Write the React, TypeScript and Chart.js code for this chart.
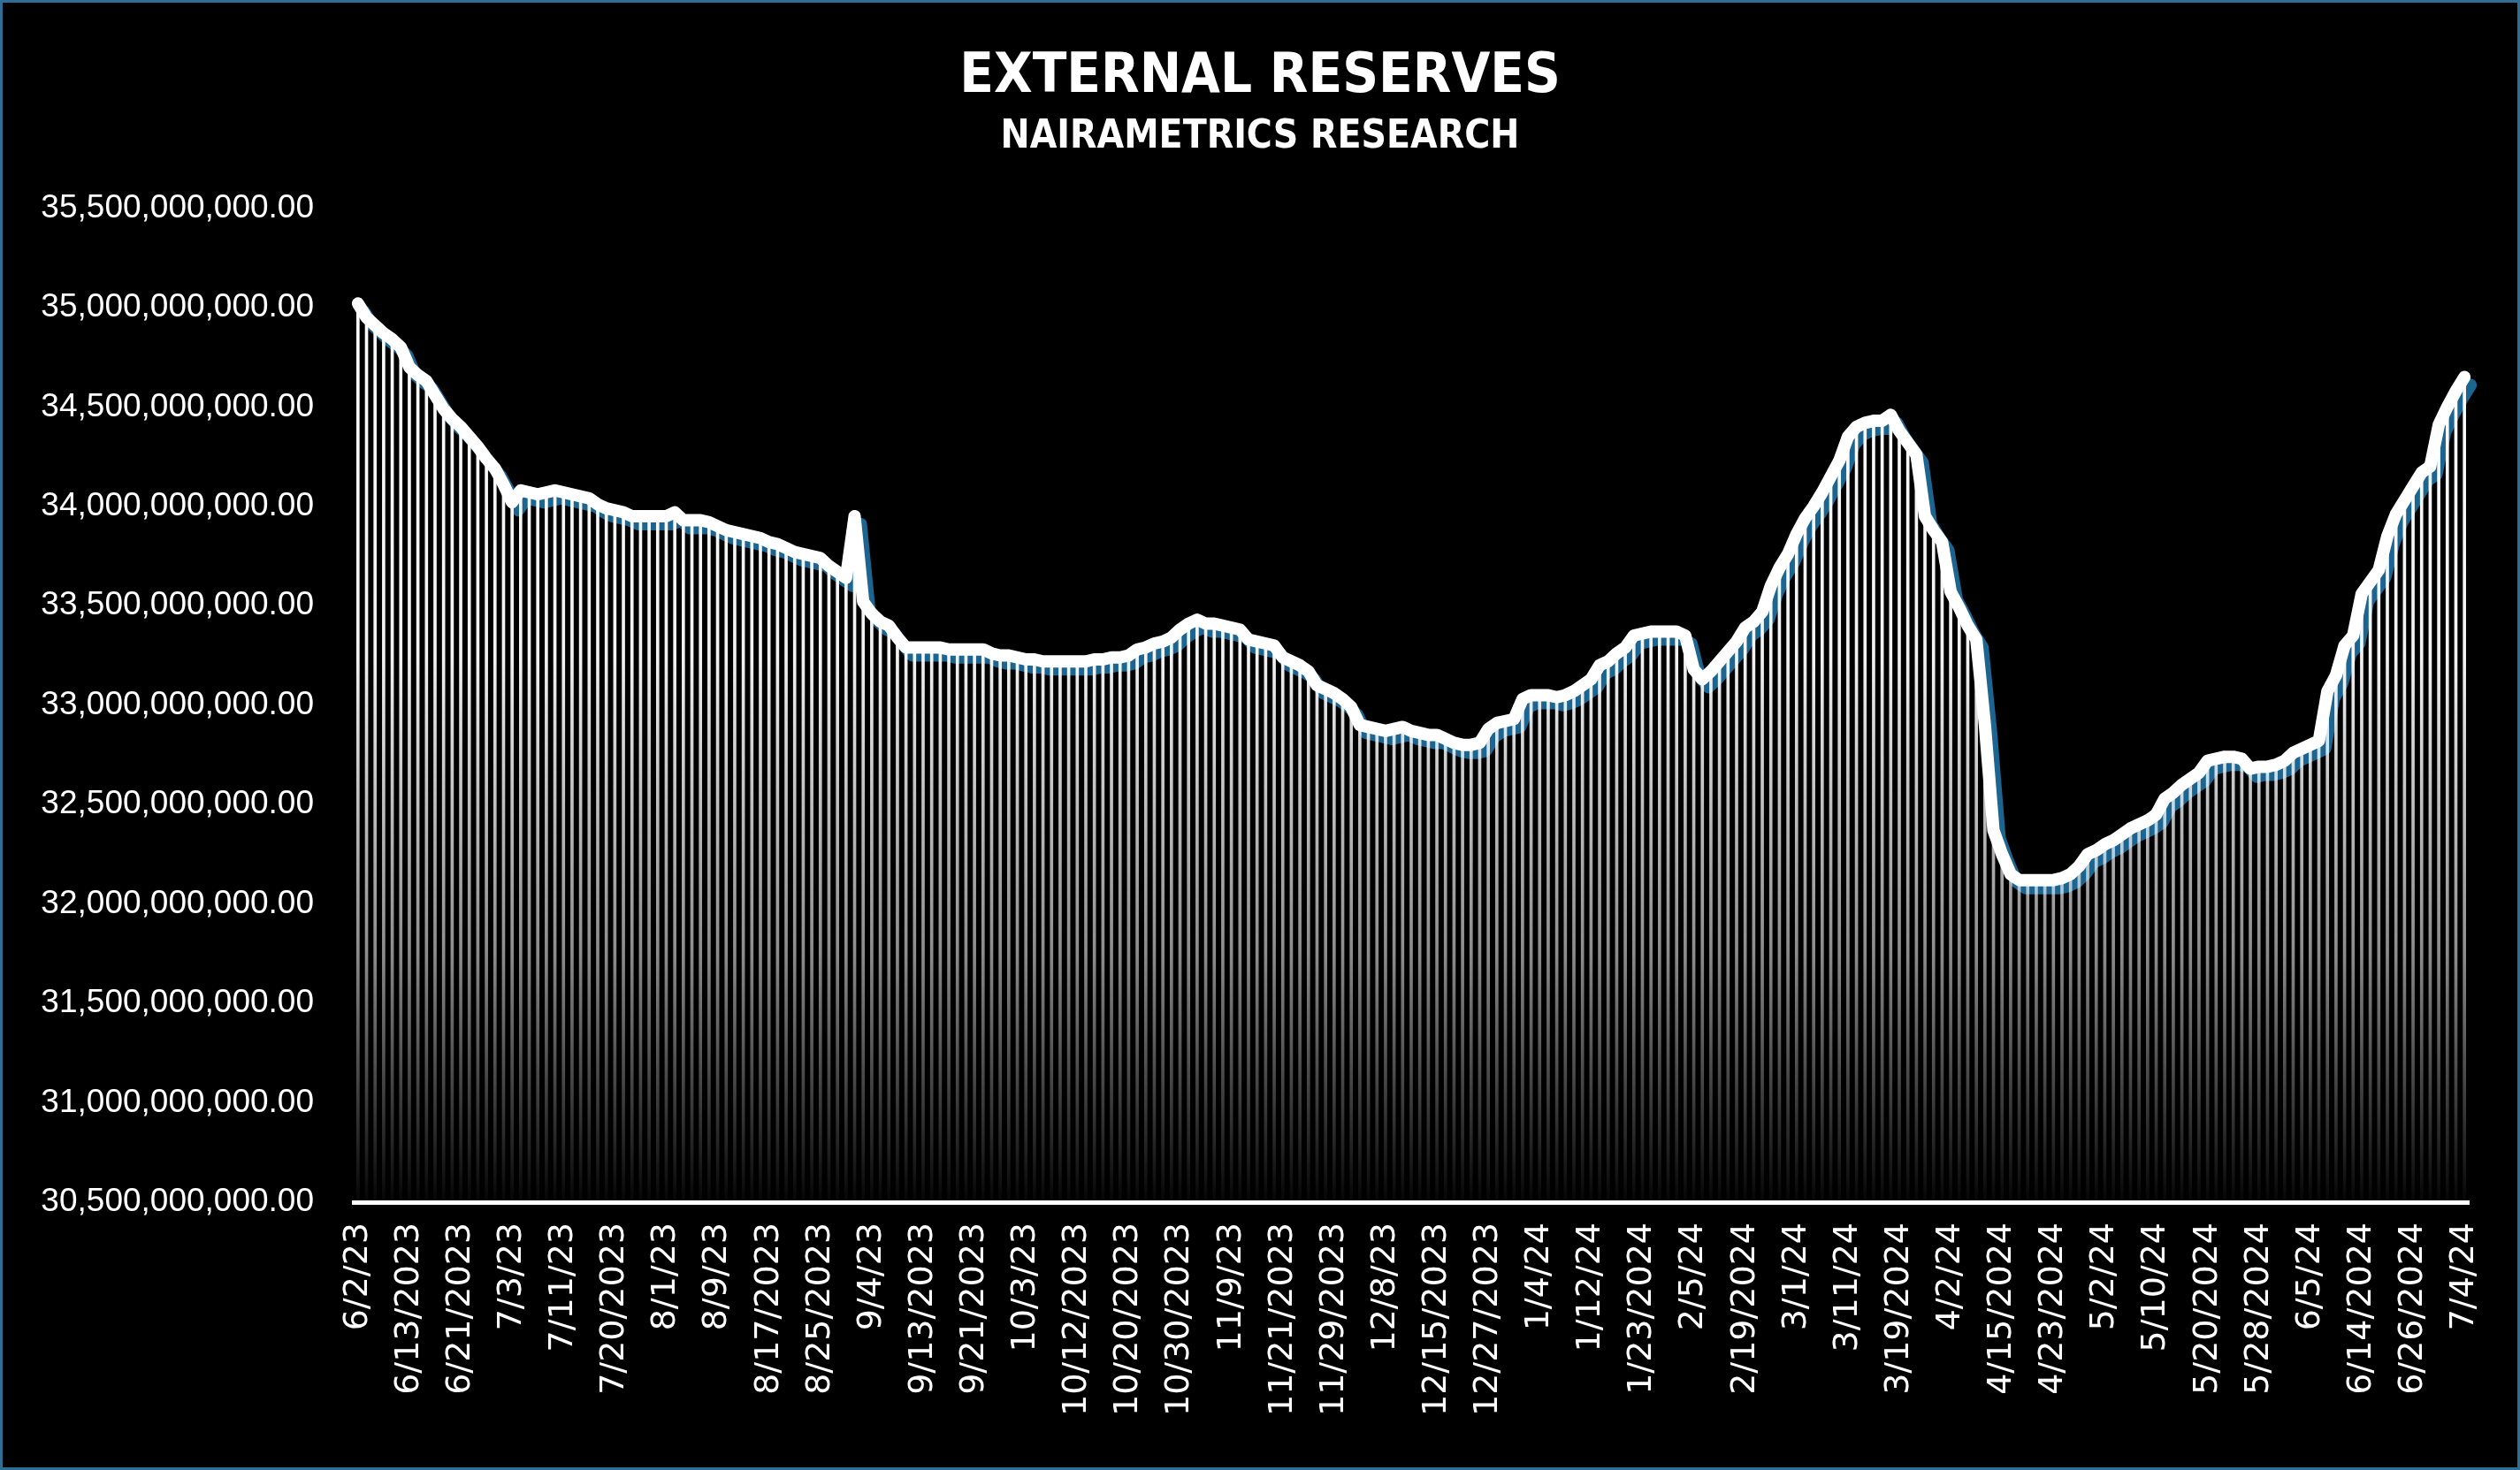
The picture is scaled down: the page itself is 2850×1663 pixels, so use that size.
import React, { useEffect, useRef } from 'react';
import Chart from 'chart.js/auto';

// tick labels as Excel shows them: one label every 6 trading days
const tickLabels = [
  '6/2/23', '6/13/2023', '6/21/2023', '7/3/23', '7/11/23', '7/20/2023', '8/1/23',
  '8/9/23', '8/17/2023', '8/25/2023', '9/4/23', '9/13/2023', '9/21/2023', '10/3/23',
  '10/12/2023', '10/20/2023', '10/30/2023', '11/9/23', '11/21/2023', '11/29/2023',
  '12/8/23', '12/15/2023', '12/27/2023', '1/4/24', '1/12/24', '1/23/2024', '2/5/24',
  '2/19/2024', '3/1/24', '3/11/24', '3/19/2024', '4/2/24', '4/15/2024', '4/23/2024',
  '5/2/24', '5/10/24', '5/20/2024', '5/28/2024', '6/5/24', '6/14/2024', '6/26/2024',
  '7/4/24',
];
const LABEL_EVERY = 6;

// gross external reserves, US$ billion, one value per trading day
const reserves = [
  35.02, 34.95, 34.91, 34.87, 34.84, 34.80, 34.70, 34.66, 34.63, 34.56,
  34.49, 34.44, 34.40, 34.35, 34.30, 34.24, 34.19, 34.11, 34.02, 34.08,
  34.07, 34.06, 34.07, 34.08, 34.07, 34.06, 34.05, 34.04, 34.01, 33.99,
  33.98, 33.97, 33.95, 33.95, 33.95, 33.95, 33.95, 33.97, 33.93, 33.93,
  33.93, 33.92, 33.90, 33.88, 33.87, 33.86, 33.85, 33.84, 33.82, 33.81,
  33.79, 33.77, 33.76, 33.75, 33.74, 33.70, 33.67, 33.64, 33.95, 33.52,
  33.46, 33.42, 33.40, 33.34, 33.29, 33.29, 33.29, 33.29, 33.29, 33.28,
  33.28, 33.28, 33.28, 33.28, 33.26, 33.25, 33.25, 33.24, 33.23, 33.23,
  33.22, 33.22, 33.22, 33.22, 33.22, 33.22, 33.23, 33.23, 33.24, 33.24,
  33.25, 33.28, 33.29, 33.31, 33.32, 33.34, 33.38, 33.41, 33.43, 33.41,
  33.41, 33.40, 33.39, 33.38, 33.33, 33.32, 33.31, 33.30, 33.24, 33.22,
  33.20, 33.17, 33.10, 33.08, 33.06, 33.03, 32.99, 32.90, 32.89, 32.88,
  32.87, 32.88, 32.89, 32.87, 32.86, 32.85, 32.85, 32.83, 32.81, 32.80,
  32.80, 32.81, 32.88, 32.91, 32.92, 32.93, 33.03, 33.05, 33.05, 33.05,
  33.04, 33.05, 33.07, 33.10, 33.13, 33.20, 33.22, 33.26, 33.29, 33.35,
  33.36, 33.37, 33.37, 33.37, 33.37, 33.35, 33.18, 33.13, 33.17, 33.22,
  33.27, 33.32, 33.39, 33.42, 33.47, 33.60, 33.69, 33.76, 33.86, 33.94,
  34.00, 34.07, 34.15, 34.23, 34.35, 34.40, 34.42, 34.43, 34.43, 34.46,
  34.38, 34.32, 34.26, 33.95, 33.88, 33.82, 33.57, 33.49, 33.40, 33.33,
  32.90, 32.37, 32.25, 32.15, 32.12, 32.12, 32.12, 32.12, 32.12, 32.13,
  32.15, 32.19, 32.25, 32.27, 32.30, 32.32, 32.35, 32.38, 32.40, 32.42,
  32.45, 32.53, 32.56, 32.60, 32.63, 32.66, 32.72, 32.73, 32.74, 32.74,
  32.73, 32.68, 32.69, 32.69, 32.70, 32.72, 32.76, 32.78, 32.80, 32.82,
  33.07, 33.15, 33.30, 33.35, 33.56, 33.62, 33.68, 33.85, 33.96, 34.03,
  34.10, 34.17, 34.20, 34.41, 34.50, 34.58, 34.65,
];

const Y_MIN = 30.5e9;
const Y_MAX = 35.5e9;
const Y_STEP = 0.5e9;

// draws the blue copy of the line a few pixels down and right, like Excel's shadow
const shadowShift = {
  id: 'shadowShift',
  beforeDatasetDraw(chart: Chart, args: { index: number }) {
    if (args.index === 2) {
      chart.ctx.save();
      chart.ctx.translate(7, 9);
    }
  },
  afterDatasetDraw(chart: Chart, args: { index: number }) {
    if (args.index === 2) chart.ctx.restore();
  },
};

const App: React.FC = () => {
  const chartRef = useRef<HTMLCanvasElement>(null);
  const chartInstance = useRef<Chart | null>(null);

  useEffect(() => {
    if (!chartRef.current) return;
    if (chartInstance.current) chartInstance.current.destroy();

    const values = reserves.map((v) => v * 1e9);
    const categories = reserves.map((_, i) =>
      i % LABEL_EVERY === 0 ? tickLabels[i / LABEL_EVERY] : ''
    );

    let gradient: CanvasGradient | null = null;
    let gradientKey = '';
    const barFill = (ctx: any) => {
      const area = ctx.chart.chartArea;
      if (!area) return '#ffffff';
      const key = `${area.top}-${area.bottom}`;
      if (!gradient || key !== gradientKey) {
        gradient = ctx.chart.ctx.createLinearGradient(0, area.top, 0, area.bottom);
        gradient!.addColorStop(0, 'rgba(255,255,255,1)');
        gradient!.addColorStop(0.45, 'rgba(255,255,255,0.95)');
        gradient!.addColorStop(0.75, 'rgba(255,255,255,0.55)');
        gradient!.addColorStop(1, 'rgba(255,255,255,0.02)');
        gradientKey = key;
      }
      return gradient;
    };

    chartInstance.current = new Chart(chartRef.current, {
      type: 'bar',
      data: {
        labels: categories,
        datasets: [
          {
            type: 'line',
            label: 'Reserves',
            data: values,
            borderColor: '#ffffff',
            borderWidth: 14,
            borderJoinStyle: 'round',
            borderCapStyle: 'round',
            pointRadius: 0,
            tension: 0,
            order: 0,
          },
          {
            type: 'bar',
            label: 'Reserves bars',
            data: values,
            backgroundColor: barFill,
            barThickness: 3,
            order: 1,
          },
          {
            type: 'line',
            label: 'Shadow',
            data: values,
            borderColor: '#1b6590',
            borderWidth: 14,
            borderJoinStyle: 'round',
            borderCapStyle: 'round',
            pointRadius: 0,
            tension: 0,
            order: 2,
          },
        ],
      },
      options: {
        animation: false,
        responsive: true,
        maintainAspectRatio: false,
        devicePixelRatio: 1,
        layout: {
          padding: 0,
        },
        plugins: {
          legend: { display: false },
          tooltip: { enabled: false },
          title: {
            display: true,
            text: 'EXTERNAL RESERVES',
            color: '#ffffff',
            font: {
              family: "'DejaVu Sans Condensed', 'DejaVu Sans', sans-serif",
              size: 63,
              weight: 'bold',
            },
            padding: { top: 47, bottom: 0 },
          },
          subtitle: {
            display: true,
            text: 'NAIRAMETRICS RESEARCH',
            color: '#ffffff',
            font: {
              family: "'DejaVu Sans Condensed', 'DejaVu Sans', sans-serif",
              size: 44,
              weight: 'bold',
            },
            padding: { top: 4, bottom: 53 },
          },
        },
        scales: {
          x: {
            afterFit: (scale) => {
              scale.height = 300;
            },
            grid: { display: false, drawTicks: true, tickLength: 21 },
            border: { display: true, color: '#ffffff', width: 5 },
            ticks: {
              autoSkip: false,
              maxRotation: 90,
              minRotation: 90,
              padding: 2,
              color: '#ffffff',
              font: { family: "'DejaVu Sans', sans-serif", size: 38 },
            },
          },
          y: {
            min: Y_MIN,
            max: Y_MAX,
            afterFit: (scale) => {
              scale.width = 397;
            },
            grid: { display: false, drawTicks: false },
            border: { display: false },
            ticks: {
              stepSize: Y_STEP,
              padding: 45,
              color: '#ffffff',
              font: { family: "'Liberation Sans', Arial, sans-serif", size: 37 },
              callback: (value) =>
                Number(value).toLocaleString('en-US', {
                  minimumFractionDigits: 2,
                  maximumFractionDigits: 2,
                }),
            },
          },
          // empty right-hand axis: keeps the plot off the right edge
          // while the titles stay centred on the whole canvas
          yRight: {
            position: 'right',
            min: Y_MIN,
            max: Y_MAX,
            afterFit: (scale) => {
              scale.width = 55;
            },
            grid: { display: false, drawTicks: false },
            border: { display: false },
            ticks: { display: false },
          },
        },
      },
      plugins: [shadowShift],
    });

    return () => {
      if (chartInstance.current) {
        chartInstance.current.destroy();
        chartInstance.current = null;
      }
    };
  }, []);

  return (
    <div
      style={{
        position: 'fixed',
        top: 0,
        left: 0,
        width: '2850px',
        height: '1663px',
        boxSizing: 'border-box',
        border: '3px solid #2f6f95',
        background: '#000000',
      }}
    >
      <div style={{ position: 'relative', width: '100%', height: '100%' }}>
        <canvas ref={chartRef} />
      </div>
    </div>
  );
};

export default App;
